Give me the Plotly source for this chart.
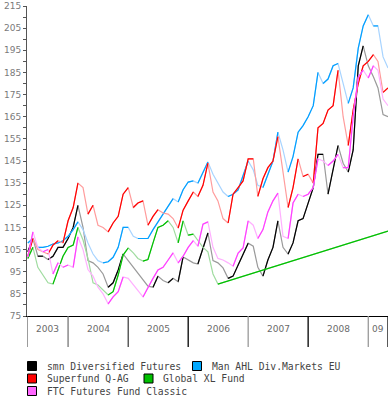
import plotly.graph_objects as go
import pandas as pd

# ---------------- data (monthly readings) ----------------
dates = pd.date_range('2003-05-01', periods=73, freq='MS')

smn = [104, 110, 102, 102, 100.5, 102, 106, 106, 110, 115, 125, 115, 100, 99, 97, 94, 88, 90, 95.8, 103,
       100, 97, 94, 91, 88.5, 88, 93, 91, 90, 92, 90.5, 101.7, 100.3, 99, 98.5, 106, 112.5, 100, 99, 96.7,
       92, 93, 98, 103, 107.9, 106.5, 97, 93, 100.3, 106, 118, 106, 103, 108, 118, 119, 126, 133, 148, 148,
       130, 142, 152, 144, 140, 150, 188, 197, 188, 183, 178, 166, 165]

man = [108, 110, 106, 106, 106.5, 107.5, 108, 109, 111, 114, 117.5, 114, 108, 103, 100, 99, 99.5, 101.5, 106, 115,
       115, 111, 110, 110, 110, 114, 117.5, 121.5, 125, 128, 126.5, 132, 135.5, 136, 135, 140, 144.6, 139, 135, 131,
       129, 130, 132, 138, 145, 141, 134, 133, 139, 145, 158, 150, 140, 147, 158, 161, 165, 170, 185, 180,
       182, 188, 189, 180, 171, 178, 196, 206, 211, 206, 206, 192, 187]

superfund = [102, 110, 105, 104, 103, 107, 109, 108, 118, 124, 135, 133, 121, 125, 116, 115, 113, 117, 120, 130,
             133, 124, 126, 127, 116, 120, 123, 121.5, 121, 119, 114.7, 122.8, 127, 131, 129, 134, 144, 131, 127, 119,
             117, 130, 133, 136, 146, 146, 129, 137, 142, 145, 156, 141, 124, 133, 146, 138, 139, 135, 160, 162,
             168, 170, 186, 165, 152, 168, 180, 188, 190, 193, 190, 176, 178]

globalxl = [101, 106, 97, 93.5, 90, 89.4, 95.8, 102, 106, 107, 115, 109.3, 101, 90, 89, 86.7, 84.5, 86, 93.5, 102.5,
            105.7, 103.5, 101, 99.8, 100.5, 108, 115, 116, 118, 115, 108, 118, 111.5, 112, 109, 106, 104, 94, 89.4] \
           + [None] * 33 + [113.3]

ftc = [101.7, 113, 106, 104, 105, 94, 99, 97, 98, 97, 110.7, 105, 96, 93, 88, 85, 80.5, 83.6, 86, 92.6,
       92, 89, 86.7, 83.6, 88, 92, 95.8, 97, 100.3, 103.5, 99, 102, 106, 109, 106.5, 116.5, 117.5, 106, 101, 100.3,
       99, 97.5, 103.4, 105.7, 118, 116, 110, 114, 122, 127, 130.5, 111, 110, 126, 130, 129, 130, 133, 146, 145,
       143, 145, 148, 142, 142, 165, 183, 186, 182.5, 188, 186, 173, 170]

series_names = ['smn Diversified Futures', 'Man AHL Div.Markets EU', 'Superfund Q-AG',
                'Global XL Fund', 'FTC Futures Fund Classic']

year_labels = ['2003', '2004', '2005', '2006', '2007', '2008', '09']
year_bounds = ['2003-04-26', '2004-01-01', '2005-01-01', '2006-01-01', '2007-01-01',
               '2008-01-01', '2009-01-01', '2009-05-01']
y_ticks = list(range(75, 216, 10))

# ---------------- styles ----------------
dark_cols = ['#000000', '#00a0ff', '#ff0000', '#00c000', '#ff40ff']
light_cols = ['#9a9a9a', '#a8d4ff', '#ff9c9c', '#a0dca0', '#ffb0ff']
legend_cols = ['#000000', '#00a8ff', '#ff0000', '#00c000', '#ff66ff']

W, H = 390, 400
ML, MR, MT, MB = 27, 2, 6, 84
PW, PH = W - ML - MR, H - MT - MB


def px2paper_x(px):
    return (px - ML) / PW


def py2paper_y(py):
    return (H - MB - py) / PH


def rising(xs, ys):
    pts = [(x, y) for x, y in zip(xs, ys) if y is not None]
    ox, oy = [], []
    for (x0, y0), (x1, y1) in zip(pts, pts[1:]):
        if y1 >= y0:
            if ox and ox[-1] is not None and ox[-1] == x0:
                ox.append(x1); oy.append(y1)
            else:
                if ox:
                    ox.append(None); oy.append(None)
                ox += [x0, x1]; oy += [y0, y1]
    return ox, oy


fig = go.Figure()
all_series = [smn, man, superfund, globalxl, ftc]
for name, vals, dc, lc in zip(series_names, all_series, dark_cols, light_cols):
    fig.add_trace(go.Scatter(x=dates, y=vals, mode='lines', name=name, connectgaps=True,
                             line=dict(color=lc, width=1.2), showlegend=False, hoverinfo='skip'))
    rx, ry = rising(list(dates), vals)
    fig.add_trace(go.Scatter(x=rx, y=ry, mode='lines', name=name, connectgaps=False,
                             line=dict(color=dc, width=1.2), showlegend=False, hoverinfo='skip'))

shapes = []
annotations = []
# year band dividers
div_cols = ['#666666', '#777777', '#444444', '#000000', '#999999', '#000000', '#999999', '#000000']
for b, c in zip(year_bounds, div_cols):
    shapes.append(dict(type='line', xref='x', yref='paper', x0=b, x1=b,
                       y0=0, y1=py2paper_y(347), line=dict(color=c, width=1.3)))
# year labels
for lab, a, b in zip(year_labels, year_bounds[:-1], year_bounds[1:]):
    ta, tb = pd.Timestamp(a), pd.Timestamp(b)
    mid = ta + (tb - ta) / 2
    annotations.append(dict(x=mid, y=py2paper_y(329), xref='x', yref='paper', text=lab,
                            showarrow=False, xanchor='center', yanchor='middle',
                            font=dict(family='DejaVu Sans', size=9, color='#6a6a6a')))

# manual legend
leg_pos = [(27.5, 366), (192.5, 366), (27.5, 378.5), (144, 378.5), (27.5, 391)]
for (sx, sy), name, col in zip(leg_pos, series_names, legend_cols):
    shapes.append(dict(type='rect', xref='paper', yref='paper',
                       x0=px2paper_x(sx), x1=px2paper_x(sx + 9),
                       y0=py2paper_y(sy - 4.5), y1=py2paper_y(sy + 4.5),
                       fillcolor=col, line=dict(color='#000000', width=1)))
    annotations.append(dict(x=px2paper_x(sx + 17), y=py2paper_y(sy), xref='paper', yref='paper',
                            text=name, showarrow=False, xanchor='left', yanchor='middle',
                            font=dict(family='DejaVu Sans Mono', size=9.7, color='#444444')))

fig.update_layout(
    width=W, height=H,
    margin=dict(l=ML, r=MR, t=MT, b=MB, pad=0),
    plot_bgcolor='white', paper_bgcolor='white',
    shapes=shapes, annotations=annotations,
    xaxis=dict(type='date', range=[year_bounds[0], year_bounds[-1]], showticklabels=False,
               ticks='', showgrid=False, zeroline=False, showline=True, linecolor='#000000',
               linewidth=1),
    yaxis=dict(range=[75, 215], tickvals=y_ticks, ticks='outside', ticklen=3, tickcolor='#555555',
               showgrid=False, zeroline=False, showline=True, linecolor='#555555', linewidth=1,
               tickfont=dict(family='DejaVu Sans', size=9, color='#7a7a7a'),
               minor=dict(dtick=5, tick0=75, ticks='outside', ticklen=3, tickcolor='#555555',
                          showgrid=False)),
    showlegend=False,
)

fig.write_html('out.html', config={'displayModeBar': False},
               post_script="document.body.style.margin='0';document.body.style.padding='0';")
